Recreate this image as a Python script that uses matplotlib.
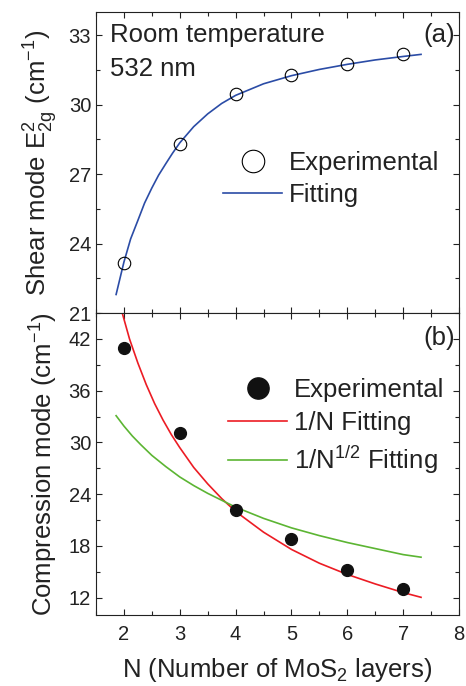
import numpy as np
import matplotlib
matplotlib.use('Agg')
import matplotlib.pyplot as plt
from matplotlib.ticker import MultipleLocator

plt.rcParams['font.family'] = ['Liberation Sans', 'DejaVu Sans']
plt.rcParams['mathtext.fontset'] = 'custom'
plt.rcParams['mathtext.rm'] = 'Liberation Sans'
plt.rcParams['mathtext.it'] = 'Liberation Sans:italic'
plt.rcParams['mathtext.bf'] = 'Liberation Sans:bold'

# measured points
N_exp = [2, 3, 4, 5, 6, 7]
shear_exp = [23.16, 28.3, 30.44, 31.28, 31.74, 32.17]
comp_exp = [41.0, 31.1, 22.2, 18.8, 15.2, 13.0]

# fit curves
N_shear_fit = [1.86, 2.0, 2.12, 2.25, 2.37, 2.5, 2.62, 2.75, 2.87, 3.0, 3.25, 3.5, 3.75, 4.0,
               4.5, 5.0, 5.5, 6.0, 6.5, 7.0, 7.32]
shear_fit = [21.8, 23.2, 24.2, 25.0, 25.75, 26.4, 26.95, 27.45, 27.9, 28.35, 29.05, 29.6, 30.05, 30.4,
             30.9, 31.25, 31.52, 31.74, 31.93, 32.08, 32.17]

N_comp_fit = [1.97, 2.1, 2.25, 2.4, 2.55, 2.7, 2.85, 3.0, 3.25, 3.5, 3.75, 4.0, 4.5, 5.0,
              5.5, 6.0, 6.5, 7.0, 7.32]
inv_fit = [45.0, 42.0, 39.2, 36.7, 34.5, 32.6, 30.9, 29.4, 27.1, 25.2, 23.5, 22.0, 19.6, 17.6,
           16.0, 14.7, 13.6, 12.6, 12.05]

N_sqrt_fit = [1.86, 2.0, 2.15, 2.3, 2.5, 2.75, 3.0, 3.25, 3.5, 3.75, 4.0, 4.5, 5.0, 5.5, 6.0,
              6.5, 7.0, 7.32]
sqrt_fit = [33.1, 31.9, 30.75, 29.75, 28.5, 27.2, 26.0, 25.0, 24.1, 23.3, 22.5, 21.2, 20.1, 19.2,
            18.4, 17.7, 17.0, 16.7]

blue = '#2b4ca6'
red = '#ec1c24'
green = '#5cb533'
tick_col = '#222222'
fs = 18.5

fig = plt.figure(figsize=(4.66, 6.86), dpi=100)
ax1 = fig.add_axes([0.206, 0.5437, 0.779, 0.4388])
ax2 = fig.add_axes([0.206, 0.1035, 0.779, 0.4402])

for ax in (ax1, ax2):
    ax.set_xlim(1.5, 8)
    ax.xaxis.set_major_locator(MultipleLocator(1))
    ax.xaxis.set_minor_locator(MultipleLocator(0.5))
    ax.tick_params(which='both', direction='in', top=True, right=True,
                   labelsize=14.5, colors=tick_col, width=0.8)
    ax.tick_params(which='major', length=4.5)
    ax.tick_params(which='minor', length=3)
    ax.tick_params(axis='x', pad=7)
    for s in ax.spines.values():
        s.set_linewidth(0.8)
        s.set_color(tick_col)

# panel (a)
ax1.plot(N_shear_fit, shear_fit, color=blue, lw=1.2, label='Fitting', zorder=2)
ax1.plot(N_exp, shear_exp, 'o', mfc='none', mec='black', ms=9, mew=0.8,
         label='Experimental', zorder=3)
ax1.set_ylim(21, 34)
ax1.yaxis.set_major_locator(MultipleLocator(3))
ax1.yaxis.set_minor_locator(MultipleLocator(1.5))
ax1.tick_params(axis='x', labelbottom=False)
ax1.set_ylabel(r'Shear mode E$^{2}_{\mathrm{2g}}$ (cm$^{-1}$)', fontsize=fs, color=tick_col,
               labelpad=6)
ax1.text(0.039, 0.924, 'Room temperature', transform=ax1.transAxes, fontsize=fs,
         va='center', ha='left', color=tick_col)
ax1.text(0.039, 0.811, '532 nm', transform=ax1.transAxes, fontsize=fs,
         va='center', ha='left', color=tick_col)
ax1.text(0.989, 0.924, '(a)', transform=ax1.transAxes, fontsize=fs,
         va='center', ha='right', color=tick_col)
h, l = ax1.get_legend_handles_labels()
ax1.legend(h[::-1], l[::-1], loc='upper left', bbox_to_anchor=(0.35, 0.538), frameon=False,
           fontsize=fs, markerscale=1.8, handlelength=2.3, handletextpad=0.25,
           labelspacing=0.3, borderpad=0, borderaxespad=0, labelcolor=tick_col)

# panel (b)
ax2.plot(N_comp_fit, inv_fit, color=red, lw=1.2, label='1/N Fitting', zorder=2)
ax2.plot(N_sqrt_fit, sqrt_fit, color=green, lw=1.2, label='1/N$^{1/2}$ Fitting', zorder=2)
ax2.plot(N_exp, comp_exp, 'o', color='#111111', ms=8.5, label='Experimental', zorder=3)
ax2.set_ylim(10, 45)
ax2.yaxis.set_major_locator(MultipleLocator(6))
ax2.yaxis.set_minor_locator(MultipleLocator(3))
ax2.set_ylabel('Compression mode (cm$^{-1}$)', fontsize=fs, color=tick_col, labelpad=6)
ax2.set_xlabel('N (Number of MoS$_2$ layers)', fontsize=fs, color=tick_col, labelpad=9)
ax2.text(0.989, 0.917, '(b)', transform=ax2.transAxes, fontsize=fs,
         va='center', ha='right', color=tick_col)
h, l = ax2.get_legend_handles_labels()
ax2.legend([h[2], h[0], h[1]], [l[2], l[0], l[1]], loc='upper left',
           bbox_to_anchor=(0.364, 0.785), frameon=False, fontsize=fs, markerscale=1.8,
           handlelength=2.3, handletextpad=0.25, labelspacing=0.35, borderpad=0,
           borderaxespad=0, labelcolor=tick_col)

fig.savefig('out.png', dpi=100)
